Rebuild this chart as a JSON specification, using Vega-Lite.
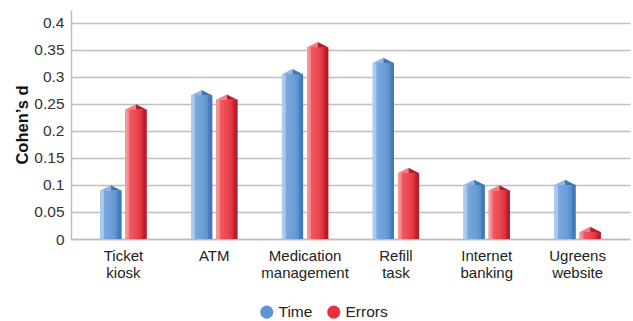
{
  "$schema": "https://vega.github.io/schema/vega-lite/v6.json",
  "width": 559,
  "height": 229,
  "autosize": "none",
  "padding": {"left": 71, "top": 10, "right": 3, "bottom": 82},
  "background": "white",
  "config": {
    "font": "Liberation Sans",
    "view": {"stroke": null},
    "axis": {"labelFont": "Liberation Sans", "titleFont": "Liberation Sans"},
    "legend": {"labelFont": "Liberation Sans"}
  },
  "data": {
    "values": [
      {"task": "Ticket kiosk", "series": "Time", "d": 0.09},
      {"task": "Ticket kiosk", "series": "Errors", "d": 0.24},
      {"task": "ATM", "series": "Time", "d": 0.266},
      {"task": "ATM", "series": "Errors", "d": 0.258},
      {"task": "Medication management", "series": "Time", "d": 0.305},
      {"task": "Medication management", "series": "Errors", "d": 0.355},
      {"task": "Refill task", "series": "Time", "d": 0.326},
      {"task": "Refill task", "series": "Errors", "d": 0.122},
      {"task": "Internet banking", "series": "Time", "d": 0.1},
      {"task": "Internet banking", "series": "Errors", "d": 0.09},
      {"task": "Ugreens website", "series": "Time", "d": 0.1},
      {"task": "Ugreens website", "series": "Errors", "d": 0.013}
    ]
  },
  "encoding": {
    "x": {
      "field": "task", "type": "nominal", "sort": null,
      "scale": {"paddingInner": 0.49, "paddingOuter": 0.322},
      "axis": {
        "title": null, "labelAngle": 0, "labelFontSize": 15, "labelColor": "#222222",
        "labelExpr": "split(datum.label, ' ')", "labelLineHeight": 17,
        "ticks": false, "domainColor": "#bdbdbd", "domainWidth": 1.5, "labelPadding": 9
      }
    },
    "xOffset": {
      "field": "series", "type": "nominal", "sort": ["Time", "Errors"],
      "scale": {"paddingInner": 0.16, "paddingOuter": 0}
    },
    "y": {
      "field": "d", "type": "quantitative",
      "scale": {"domain": [0, 0.424], "nice": false},
      "axis": {
        "title": "Cohen’s d", "titleFontSize": 16.5, "titleFontWeight": "bold", "titleColor": "#111111",
        "titlePadding": 3,
        "values": [0, 0.05, 0.1, 0.15, 0.2, 0.25, 0.3, 0.35, 0.4],
        "labelExpr": "datum.value == 0 ? '0' : format(datum.value, '.2~f')",
        "labelFontSize": 15.5, "labelColor": "#333333", "ticks": false, "labelPadding": 7,
        "gridColor": "#bfbfbf", "gridWidth": 1.3, "domainColor": "#bdbdbd", "domainWidth": 1.5
      }
    }
  },
  "layer": [
    {
      "mark": {"type": "bar"},
      "encoding": {
        "color": {
          "field": "series", "type": "nominal",
          "scale": {"domain": ["Time", "Errors"], "range": ["#5f95d3", "#e8313f"]},
          "legend": {
            "title": null, "orient": "none", "legendX": 188, "legendY": 294, "direction": "horizontal",
            "symbolType": "circle", "symbolSize": 170, "labelFontSize": 15.5,
            "labelColor": "#222222", "columnPadding": 13, "symbolStrokeWidth": 0
          }
        }
      }
    },
    {
      "mark": {"type": "bar"},
      "encoding": {
        "fill": {
          "condition": {
            "test": "datum.series === 'Time'",
            "value": {
              "gradient": "linear", "x1": 0, "y1": 0, "x2": 1, "y2": 0,
              "stops": [
                {"offset": 0, "color": "#b3d0ef"},
                {"offset": 0.16, "color": "#a3c4ea"},
                {"offset": 0.2, "color": "#79a8de"},
                {"offset": 0.6, "color": "#6a9dd6"},
                {"offset": 0.8, "color": "#5b8ecb"},
                {"offset": 0.82, "color": "#4a80bf"},
                {"offset": 1, "color": "#3e75b0"}
              ]
            }
          },
          "value": {
            "gradient": "linear", "x1": 0, "y1": 0, "x2": 1, "y2": 0,
            "stops": [
              {"offset": 0, "color": "#f7a3a7"},
              {"offset": 0.16, "color": "#f28186"},
              {"offset": 0.2, "color": "#ee5a62"},
              {"offset": 0.6, "color": "#e9404c"},
              {"offset": 0.8, "color": "#dc2c39"},
              {"offset": 0.82, "color": "#c4242f"},
              {"offset": 1, "color": "#a81c26"}
            ]
          }
        }
      }
    },
    {
      "mark": {"type": "point", "filled": true, "shape": "M-1,0L0,-0.5L0,0Z", "size": 441, "strokeWidth": 0, "opacity": 1},
      "encoding": {
        "fill": {
          "condition": {"test": "datum.series === 'Time'", "value": "#8db6e6"},
          "value": "#f27d83"
        }
      }
    },
    {
      "mark": {"type": "point", "filled": true, "shape": "M0,0L0,-0.5L1,0Z", "size": 441, "strokeWidth": 0, "opacity": 1},
      "encoding": {
        "fill": {
          "condition": {"test": "datum.series === 'Time'", "value": "#3f77b3"},
          "value": "#b3202b"
        }
      }
    }
  ]
}
